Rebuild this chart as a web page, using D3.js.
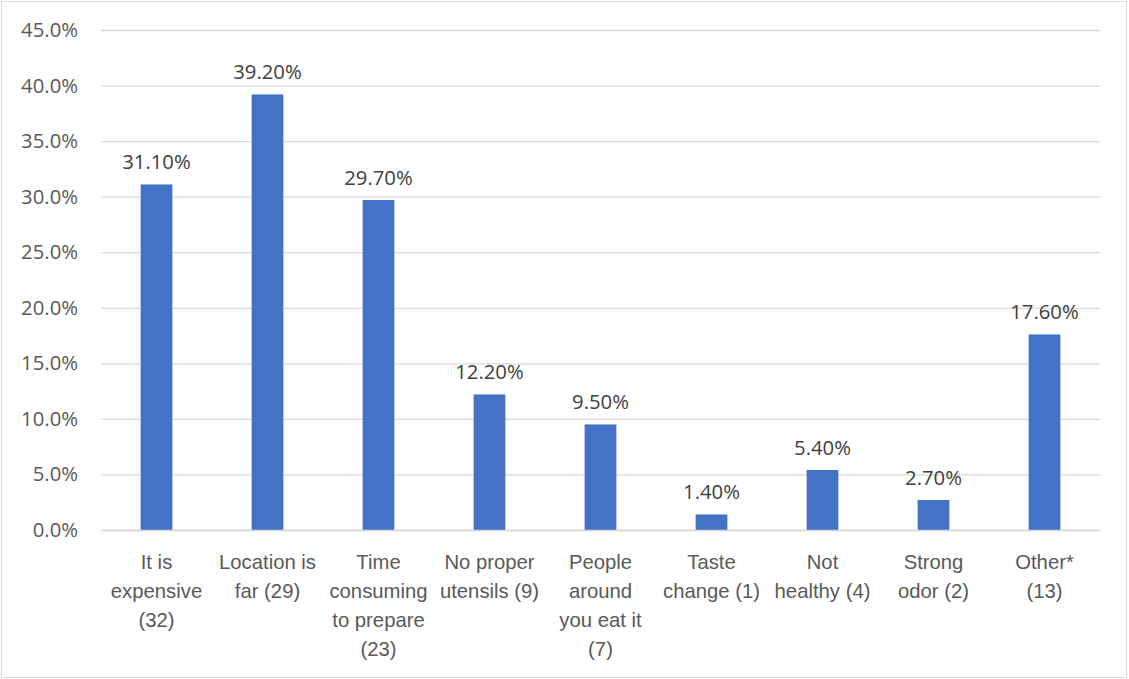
<!DOCTYPE html>
<html>
<head>
<meta charset="utf-8">
<script src="https://cdn.jsdelivr.net/npm/d3@7"></script>
<style>
  html, body { margin: 0; padding: 0; background: #fff; }
  svg { display: block; font-family: "Open Sans", Lato, sans-serif; }
</style>
</head>
<body>
<svg id="chart" width="1129" height="679"></svg>
<script>
// Reasons for not eating it (count in brackets), share of respondents
const categories = [
  ["It is", "expensive", "(32)"],
  ["Location is", "far (29)"],
  ["Time", "consuming", "to prepare", "(23)"],
  ["No proper", "utensils (9)"],
  ["People", "around", "you eat it", "(7)"],
  ["Taste", "change (1)"],
  ["Not", "healthy (4)"],
  ["Strong", "odor (2)"],
  ["Other*", "(13)"]
];
const values = [31.1, 39.2, 29.7, 12.2, 9.5, 1.4, 5.4, 2.7, 17.6];
const yTicks = [0, 5, 10, 15, 20, 25, 30, 35, 40, 45];

const W = 1129, H = 679;
const plot = { left: 101, right: 1100, top: 30, bottom: 530 };
const FS = 20.3;

const svg = d3.select("#chart");

// outer frame
svg.append("rect")
  .attr("x", 1.5).attr("y", 1.5)
  .attr("width", W - 4).attr("height", H - 3)
  .attr("fill", "#fff").attr("stroke", "#d9d9d9").attr("stroke-width", 1);

const keys = categories.map((c, i) => i);
const x = d3.scaleBand().domain(keys).range([plot.left, plot.right]).paddingInner(0.714).paddingOuter(0.357);
const y = d3.scaleLinear().domain([0, 45]).range([plot.bottom, plot.top]);

// gridlines + y labels
const yAxis = d3.axisLeft(y).tickValues(yTicks)
  .tickFormat(d => d.toFixed(1) + "%")
  .tickSize(-(plot.right - plot.left)).tickPadding(23);
const gy = svg.append("g").attr("transform", `translate(${plot.left},0)`).call(yAxis);
gy.select(".domain").remove();
gy.selectAll(".tick line").attr("stroke", "#d9d9d9").attr("stroke-width", 1.3);
gy.selectAll(".tick text").attr("fill", "#595959").attr("font-size", FS)
  .attr("font-family", "'Open Sans', Lato, sans-serif");

// bars
svg.append("g").selectAll("rect").data(values).join("rect")
  .attr("x", (d, i) => x(i))
  .attr("y", d => y(d))
  .attr("width", x.bandwidth())
  .attr("height", d => y(0) - y(d))
  .attr("fill", "#4472c4");

// value labels
svg.append("g").selectAll("text").data(values).join("text")
  .attr("x", (d, i) => x(i) + x.bandwidth() / 2)
  .attr("y", d => y(d) - 15)
  .attr("text-anchor", "middle")
  .attr("fill", "#404040").attr("font-size", FS)
  .text(d => d.toFixed(2) + "%");

// category labels
const xAxis = d3.axisBottom(x).tickSize(0).tickFormat("");
const gx = svg.append("g").attr("transform", `translate(0,${plot.bottom})`).call(xAxis);
gx.select(".domain").attr("stroke", "#d9d9d9").attr("stroke-width", 1.3);
gx.selectAll(".tick").each(function(i) {
  const t = d3.select(this).append("text")
    .attr("text-anchor", "middle").attr("fill", "#595959").attr("font-size", FS);
  categories[i].forEach((line, k) => {
    t.append("tspan").attr("x", 0).attr("y", 39 + k * 29).text(line);
  });
});
</script>
</body>
</html>
